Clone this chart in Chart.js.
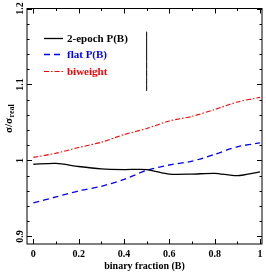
<!DOCTYPE html>
<html>
<head>
<meta charset="utf-8">
<script src="https://cdn.jsdelivr.net/npm/chart.js@4"></script>
<style>
  body { margin: 0; background: #fff; }
  canvas { display: block; }
</style>
</head>
<body>
<canvas id="myChart" width="266" height="274"></canvas>
<script>
// data
const fractions = [0, 0.1, 0.2, 0.3, 0.4, 0.5, 0.6, 0.7, 0.8, 0.9, 1.0];
const twoEpoch = [0.995, 0.996, 0.992, 0.989, 0.988, 0.988, 0.982, 0.982, 0.983, 0.980, 0.985];
const flatPB = [0.944, 0.952, 0.960, 0.966, 0.975, 0.987, 0.994, 0.999, 1.008, 1.018, 1.023];
const biweight = [1.004, 1.0095, 1.017, 1.024, 1.034, 1.042, 1.052, 1.058, 1.067, 1.077, 1.083];
const errBarX = [0.5, 0.5];
const errBarY = [1.0915, 1.1695];
const seriesNames = ["2-epoch P(B)", "flat P(B)", "biweight"];
const xTicks = [0, 0.2, 0.4, 0.6, 0.8, 1];
const xTickText = ["0", "0.2", "0.4", "0.6", "0.8", "1"];
const yTicks = [0.9, 1, 1.1, 1.2];
const yTickText = ["0.9", "1", "1.1", "1.2"];

const pts = (xs, ys) => xs.map((x, i) => ({ x: x, y: ys[i] }));
const serif = '"Liberation Serif", "DejaVu Serif", serif';

const framePlugin = {
  id: "frame",
  afterDraw(chart) {
    const c = chart.ctx;
    const a = chart.chartArea;
    const xs = chart.scales.x;
    const ys = chart.scales.y;
    c.save();
    c.strokeStyle = "#000";
    c.lineWidth = 1;
    c.setLineDash([]);
    c.strokeRect(a.left, a.top, a.right - a.left, a.bottom - a.top);

    // inward ticks on all four sides
    c.beginPath();
    for (let i = 0; i <= 10; i++) {
      const v = i / 10;
      const px = Math.round(xs.getPixelForValue(v)) + 0.5;
      const len = i % 2 === 0 ? 5 : 2.5;
      c.moveTo(px, a.bottom); c.lineTo(px, a.bottom - len);
      c.moveTo(px, a.top); c.lineTo(px, a.top + len);
    }
    for (let i = 0; i <= 15; i++) {
      const v = 0.9 + i * 0.02;
      const py = Math.round(ys.getPixelForValue(v)) + 0.5;
      const len = i % 5 === 0 ? 5 : 2.5;
      c.moveTo(a.left, py); c.lineTo(a.left + len, py);
      c.moveTo(a.right, py); c.lineTo(a.right - len, py);
    }
    c.stroke();

    // tick labels
    c.fillStyle = "#000";
    c.font = "bold 10px " + serif;
    c.textAlign = "center";
    c.textBaseline = "middle";
    xTicks.forEach((v, i) => {
      c.fillText(xTickText[i], xs.getPixelForValue(v), 254);
    });
    yTicks.forEach((v, i) => {
      c.save();
      c.translate(20, ys.getPixelForValue(v));
      c.rotate(-Math.PI / 2);
      c.fillText(yTickText[i], 0, 0);
      c.restore();
    });

    // axis titles
    c.fillText("binary fraction (B)", (a.left + a.right) / 2, 266);
    c.save();
    c.translate(9, 133);
    c.rotate(-Math.PI / 2);
    c.textAlign = "left";
    c.font = "bold 11px " + serif;
    const main = "\u03c3/\u03c3";
    c.fillText(main, 0, 0);
    const w = c.measureText(main).width;
    c.font = "bold 8px " + serif;
    c.fillText("real", w + 0.5, 3);
    c.restore();

    // legend
    const legendY = [38.5, 54.5, 71.5];
    c.textAlign = "left";
    c.font = "bold 11px " + serif;
    chart.data.datasets.slice(0, 3).forEach((ds, i) => {
      c.strokeStyle = ds.borderColor;
      c.lineWidth = ds.borderWidth;
      c.setLineDash(ds.borderDash || []);
      c.beginPath();
      c.moveTo(44, legendY[i]);
      c.lineTo(63, legendY[i]);
      c.stroke();
      c.fillStyle = ds.borderColor;
      c.fillText(ds.label, 67, legendY[i] + 0.5);
    });
    c.restore();
  }
};

new Chart(document.getElementById("myChart"), {
  type: "line",
  data: {
    datasets: [
      {
        label: seriesNames[0],
        data: pts(fractions, twoEpoch),
        borderColor: "#000000",
        borderWidth: 1.3,
      },
      {
        label: seriesNames[1],
        data: pts(fractions, flatPB),
        borderColor: "#0000ff",
        borderWidth: 1.3,
        borderDash: [6, 4],
      },
      {
        label: seriesNames[2],
        data: pts(fractions, biweight),
        borderColor: "#ff0000",
        borderWidth: 1.1,
        borderDash: [5, 2, 1.5, 2],
      },
      {
        label: "error",
        data: pts(errBarX, errBarY),
        borderColor: "#000000",
        borderWidth: 1,
      },
    ],
  },
  options: {
    responsive: false,
    animation: false,
    layout: { padding: { left: 27, right: 4, top: 8.5, bottom: 30 } },
    elements: { point: { radius: 0 }, line: { tension: 0.25 } },
    scales: {
      x: { type: "linear", min: -0.028, max: 1.009, display: false },
      y: { type: "linear", min: 0.89, max: 1.2, display: false },
    },
    plugins: { legend: { display: false }, tooltip: { enabled: false } },
  },
  plugins: [framePlugin],
});
</script>
</body>
</html>
